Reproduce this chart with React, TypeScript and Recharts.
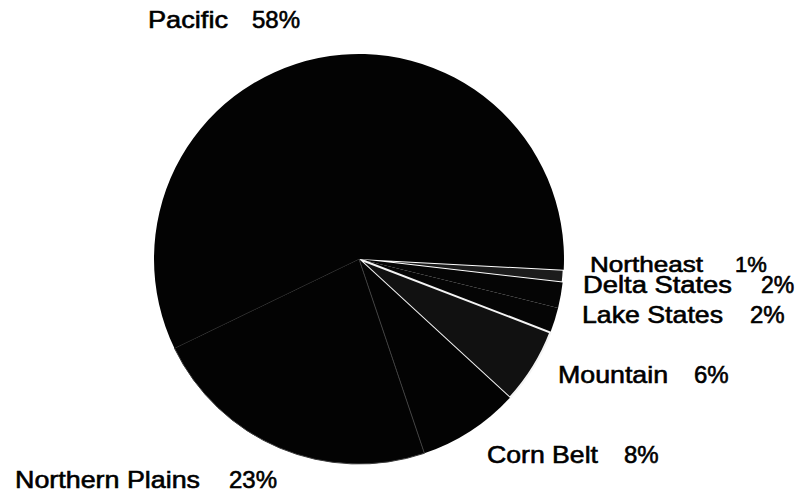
import React from "react";
import { PieChart, Pie, Cell } from "recharts";

const regions = ["Northeast", "Delta States", "Lake States", "Mountain", "Corn Belt", "Northern Plains", "Pacific"];
const shares = [1, 2, 2, 6, 8, 23, 58];

const data = regions.map((name, i) => ({ name, value: shares[i] }));

// styling / layout (not data)
const FILLS = ["#1c1c1c", "#050505", "#050505", "#111111", "#030303", "#030303", "#030303"];
const STROKES = ["#ffffff", "none", "none", "#f4f4f4", "none", "#3c3c3c", "none"];
const STROKE_W = [2, 0, 0, 2, 0, 1, 0];
// label placement: [nameX, nameWidth, pctX, baselineY, fontSize]
const LABEL_LAYOUT = [
  [590, 113, 735, 272, 22],
  [583, 149, 761, 293, 23],
  [582, 141, 750, 323, 24],
  [558, 110, 694, 383, 24],
  [487, 111, 624, 463, 24],
  [15, 185, 229, 488, 24],
  [148, 80, 252, 28, 24],
];

const FONT = "'Liberation Sans', Arial, Helvetica, sans-serif";

const renderLabel = (props: any) => {
  const i = props.index;
  const [nx, nw, px, y, fs] = LABEL_LAYOUT[i];
  return (
    <g key={`lbl-${i}`}>
      <text x={nx} y={y} fontFamily={FONT} fontSize={fs} fill="#000" stroke="#000" strokeWidth={0.6}
        textAnchor="start" textLength={nw} lengthAdjust="spacingAndGlyphs">{regions[i]}</text>
      <text x={px} y={y} fontFamily={FONT} fontSize={fs} fill="#000" stroke="#000" strokeWidth={0.6}
        textAnchor="start">{`${shares[i]}%`}</text>
    </g>
  );
};

export default function App() {
  return (
    <div style={{ position: "absolute", left: 0, top: 0, width: 803, height: 496, background: "#fff" }}>
      <PieChart width={803} height={496} margin={{ top: 0, right: 0, bottom: 0, left: 0 }}>
        <Pie
          data={data}
          dataKey="value"
          nameKey="name"
          cx={359}
          cy={259}
          outerRadius={205}
          startAngle={-3}
          endAngle={-363}
          isAnimationActive={false}
          label={renderLabel}
          labelLine={false}
        >
          {data.map((d, i) => (
            <Cell key={d.name} fill={FILLS[i]} stroke={STROKES[i]} strokeWidth={STROKE_W[i]} />
          ))}
        </Pie>
      </PieChart>
    </div>
  );
}
